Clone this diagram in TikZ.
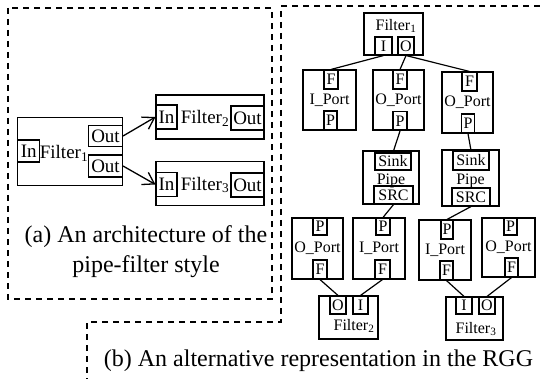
\documentclass[tikz,border=0pt]{standalone}
\usepackage{fontspec}
\setmainfont{Liberation Serif}
\usepackage{tikz}
\usetikzlibrary{arrows.meta}
\usetikzlibrary{positioning}
\tikzstyle{box}=[draw,inner sep=0pt]
\tikzstyle{lbl}=[inner sep=0pt]

\begin{document}
\begin{tikzpicture}[x=1pt,y=-1pt,
  line width=1.1pt,
  sz/.style 2 args={minimum width=#1pt,minimum height=#2pt},
  big font/.style={font=\fontsize{19}{19}\selectfont},
  small font/.style={font=\fontsize{16}{16}\selectfont},
  cap font/.style={font=\fontsize{24}{30}\selectfont},
  region/.style={dash pattern=on 6pt off 5pt,line width=1.2pt},
  link/.style={line width=1.2pt},
  flow/.style={line width=1.3pt,-{Straight Barb[length=11pt,width=14pt]}},
]
\useasboundingbox (0,0) rectangle (540,379);

% the two regions
\draw[region] (8,8) rectangle (272,299);
\draw[region] (540,6) -- (281,6) -- (281,322) -- (87,322) -- (87,379);

% (a) pipe-filter architecture
\node[box,sz={105}{68}] (f1) at (70,151.5) {};
\node[box,sz={22}{22},big font] (f1in) at (28.8,151) {In};
\node[lbl,big font] (f1lbl) at (64,153) {Filter\textsubscript{1}};
\node[box,sz={34}{21},big font] (f1out1) at (105.5,136) {Out};
\node[box,sz={34}{22},big font] (f1out2) at (105.5,166) {Out};

\node[box,sz={108}{44}] (f2) at (210,117) {};
\node[box,sz={21}{24},big font] (f2in) at (166.5,117) {In};
\node[lbl,big font] (f2lbl) at (205,118) {Filter\textsubscript{2}};
\node[box,sz={33}{24},big font] (f2out) at (247.5,118) {Out};

\node[box,sz={108}{44}] (f3) at (210,183.5) {};
\node[box,sz={21}{24},big font] (f3in) at (166.5,184.5) {In};
\node[lbl,big font] (f3lbl) at (205,185) {Filter\textsubscript{3}};
\node[box,sz={33}{24},big font] (f3out) at (247.5,185) {Out};

\draw[flow] (f1out1.east) -- (f2in.west);
\draw[flow] (f1out2.east) -- (f3in.west);

\node[lbl,cap font,anchor=base] (capa1) at (146,242) {(a) An architecture of the};
\node[lbl,cap font,anchor=base] (capa2) at (146,272) {pipe-filter style};

% (b) the same in the RGG
\node[box,sz={59}{42}] (rf1) at (393.5,34) {};
\node[lbl,small font] (rf1lbl) at (396,26) {Filter\textsubscript{1}};
\node[box,sz={17}{18},small font] (rf1i) at (383.5,46) {I};
\node[box,sz={16}{18},small font] (rf1o) at (406,46) {O};

\node[box,sz={53}{60},small font] (ip1) at (329.5,100) {I\_Port};
\node[box,sz={14}{19},small font] (ip1f) at (331,79.5) {F};
\node[box,sz={13}{19},small font] (ip1p) at (330.5,120.5) {P};

\node[box,sz={51}{60},small font] (op1) at (398.5,100) {O\_Port};
\node[box,sz={14}{19},small font] (op1f) at (400,79.5) {F};
\node[box,sz={14}{19},small font] (op1p) at (400,121) {P};

\node[box,sz={51}{61},small font] (op2) at (467.5,102.5) {O\_Port};
\node[box,sz={15}{19},small font] (op2f) at (469.5,81.5) {F};
\node[box,sz={13}{19},small font] (op2p) at (468,123.5) {P};

\node[box,sz={56}{53}] (pipe1) at (391,177.5) {};
\node[lbl,small font] (pipe1lbl) at (391,180.5) {Pipe};
\node[box,sz={36}{17},small font] (snk1) at (393,161.5) {Sink};
\node[box,sz={39}{18},small font] (src1) at (393.5,195) {SRC};

\node[box,sz={57}{56}] (pipe2) at (470.5,178) {};
\node[lbl,small font] (pipe2lbl) at (470.5,180.5) {Pipe};
\node[box,sz={36}{19},small font] (snk2) at (471,160.5) {Sink};
\node[box,sz={38}{18},small font] (src2) at (471,197) {SRC};

\node[box,sz={51}{61},small font] (op3) at (317.5,248.5) {O\_Port};
\node[box,sz={14}{17},small font] (op3p) at (320,226.5) {P};
\node[box,sz={14}{19},small font] (op3f) at (320,269.5) {F};

\node[box,sz={52}{61},small font] (ip2) at (379,248.5) {I\_Port};
\node[box,sz={14}{17},small font] (ip2p) at (383,226.5) {P};
\node[box,sz={15}{19},small font] (ip2f) at (382.5,269.5) {F};

\node[box,sz={52}{60},small font] (ip3) at (445,250) {I\_Port};
\node[box,sz={12}{19},small font] (ip3p) at (447,229.5) {P};
\node[box,sz={13}{19},small font] (ip3f) at (446.5,270.5) {F};

\node[box,sz={53}{59},small font] (op4) at (508.5,247.5) {O\_Port};
\node[box,sz={13}{17},small font] (op4p) at (510.5,226.5) {P};
\node[box,sz={13}{19},small font] (op4f) at (511.5,267.5) {F};

\node[box,sz={59}{43}] (rf2) at (348.5,317.5) {};
\node[box,sz={16}{18},small font] (rf2o) at (338,305) {O};
\node[box,sz={15}{18},small font] (rf2i) at (360.5,305) {I};
\node[lbl,small font] (rf2lbl) at (354,326) {Filter\textsubscript{2}};

\node[box,sz={57}{43}] (rf3) at (474.5,318.5) {};
\node[box,sz={16}{17},small font] (rf3i) at (464,305.5) {I};
\node[box,sz={16}{17},small font] (rf3o) at (487,305.5) {O};
\node[lbl,small font] (rf3lbl) at (476,329) {Filter\textsubscript{3}};

\draw[link] (rf1i.south) -- (ip1f.north);
\draw[link] (rf1o.south) -- (op1f.north);
\draw[link] (rf1o.south) -- (op2f.north);
\draw[link] (op1p.south) -- (snk1.north);
\draw[link] (op2p.south) -- (snk2.north);
\draw[link] (src1.south) -- (ip2p.north);
\draw[link] (src2.south) -- (ip3p.north);
\draw[link] (op3f.south) -- (rf2o.north);
\draw[link] (ip2f.south) -- (rf2i.north);
\draw[link] (ip3f.south) -- (rf3i.north);
\draw[link] (op4f.south) -- (rf3o.north);

\node[lbl,cap font,anchor=base] (capb) at (318.5,366) {(b) An alternative representation in the RGG};
\end{tikzpicture}
\end{document}
